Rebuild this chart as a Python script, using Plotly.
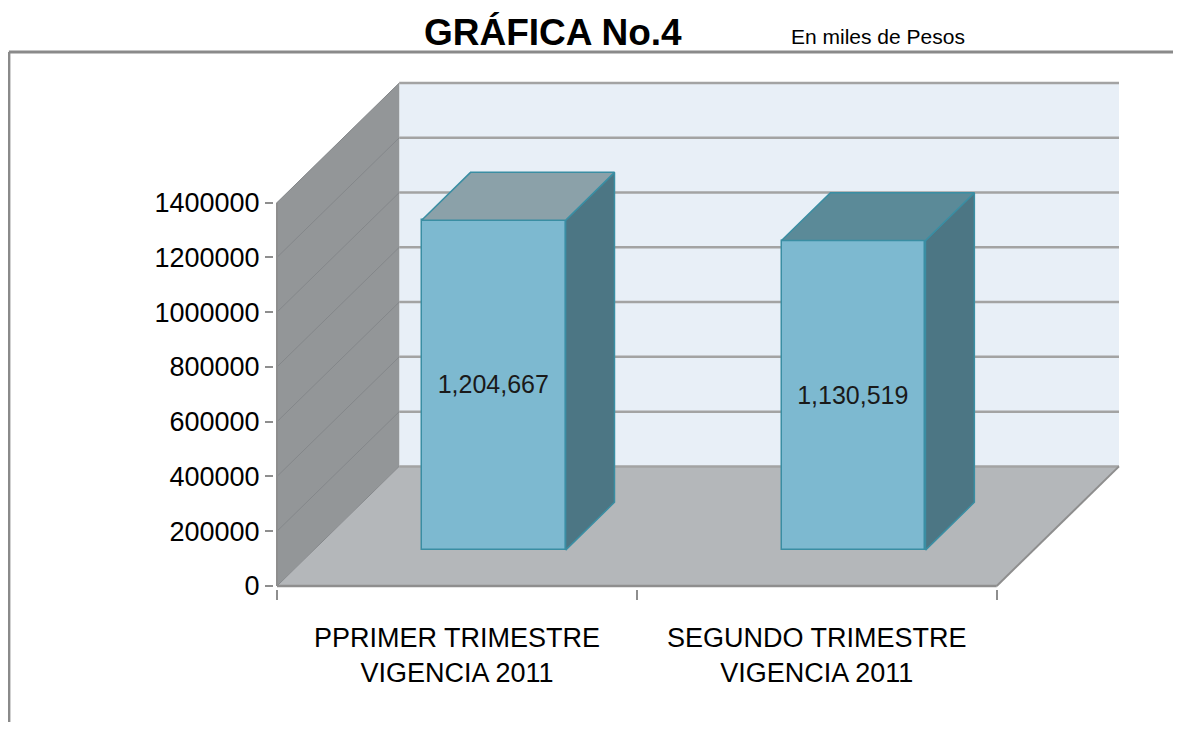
import plotly.graph_objects as go

# ---------------- data ----------------
CATEGORIES = ["PPRIMER TRIMESTRE<br>VIGENCIA 2011", "SEGUNDO TRIMESTRE<br>VIGENCIA 2011"]
VALUES = [1204667, 1130519]
Y_TICKS = [0, 200000, 400000, 600000, 800000, 1000000, 1200000, 1400000]
TITLE = "GRÁFICA No.4"
SUBTITLE = "En miles de Pesos"

# ---------------- layout / style constants ----------------
W, H = 1181, 730
OFF = 8                          # page body margin of the html page
X0_PX, Y0_PX = 277 - OFF, 586 - OFF   # front-left-bottom corner of the 3D box (figure pixels)
CAT_PX = 360.0                   # pixels per category on the front plane
YMAX = Y_TICKS[-1]
K = 383.4 / YMAX                 # pixels per value unit
DEPTH_PX = (122.3, 119.6)        # oblique depth vector in pixels
PAD = 3
DX = DEPTH_PX[0] / CAT_PX
DY = DEPTH_PX[1] / K
NCAT = len(CATEGORIES)
BAR_HALF = 0.2                   # half bar width (category units)
Z0, Z1 = 0.3, 0.7                # bar depth span (fraction of box depth)

L = X0_PX - PAD
R = X0_PX + (NCAT + DX) * CAT_PX + PAD
T = Y0_PX - (YMAX + DY) * K - PAD
B = Y0_PX + PAD

ARIAL = "Liberation Sans, Arial, Helvetica, sans-serif"

C_BACK = "#e8eff7"
C_LEFT = "#939698"
C_FLOOR = "#b4b7ba"
C_GRID = "#a3a3a3"
C_LGRID = "#84878a"
C_EDGE = "#8e8e8e"
C_FRONT = "#7db9d0"
C_SIDE = "#4c7684"
C_TOPS = ["#8ba1a9", "#5b8a98"]
C_BAREDGE = "#3a8ea3"

fig = go.Figure()

shapes = []


def path(pts):
    return "M " + " L ".join(f"{x},{y}" for x, y in pts) + " Z"


# back wall
shapes.append(dict(type="path", layer="below", xref="x", yref="y",
                   path=path([(DX, DY), (NCAT + DX, DY), (NCAT + DX, DY + YMAX), (DX, DY + YMAX)]),
                   fillcolor=C_BACK, line=dict(width=0)))
# left wall
shapes.append(dict(type="path", layer="below", xref="x", yref="y",
                   path=path([(0, 0), (0, YMAX), (DX, DY + YMAX), (DX, DY)]),
                   fillcolor=C_LEFT, line=dict(width=0)))
# floor
shapes.append(dict(type="path", layer="below", xref="x", yref="y",
                   path=path([(0, 0), (NCAT, 0), (NCAT + DX, DY), (DX, DY)]),
                   fillcolor=C_FLOOR, line=dict(width=0)))
# gridlines on back wall and left wall
for t in Y_TICKS:
    shapes.append(dict(type="line", layer="below", xref="x", yref="y",
                       x0=DX, y0=DY + t, x1=NCAT + DX, y1=DY + t,
                       line=dict(color=C_GRID, width=2.5)))
    shapes.append(dict(type="line", layer="below", xref="x", yref="y",
                       x0=0, y0=t, x1=DX, y1=DY + t,
                       line=dict(color=C_LGRID, width=1)))
# floor edges
shapes.append(dict(type="line", layer="below", xref="x", yref="y",
                   x0=0, y0=0, x1=NCAT, y1=0, line=dict(color=C_EDGE, width=2.5)))
shapes.append(dict(type="line", layer="below", xref="x", yref="y",
                   x0=NCAT, y0=0, x1=NCAT + DX, y1=DY, line=dict(color=C_EDGE, width=2)))
# vertical value axis line
shapes.append(dict(type="line", layer="below", xref="x", yref="y",
                   x0=0, y0=0, x1=0, y1=YMAX, line=dict(color=C_EDGE, width=2)))

# outer frame (top and left), converted from page pixels to paper coords
pw, ph = R - L, B - T


def px2paper(px, py):
    return (px - OFF - L) / pw, (B - (py - OFF)) / ph


fx0, fy0 = px2paper(OFF + 0.8, 52)
fx1, _ = px2paper(W + 20, 52)
_, fy1 = px2paper(OFF, 722)
shapes.append(dict(type="line", xref="paper", yref="paper", x0=fx0, y0=fy0, x1=fx1, y1=fy0,
                   line=dict(color="#8a8a8a", width=3)))
shapes.append(dict(type="line", xref="paper", yref="paper", x0=fx0, y0=fy0, x1=fx0, y1=fy1,
                   line=dict(color="#8a8a8a", width=3)))

# ---------------- bars ----------------
centers = [i + 0.5 for i in range(NCAT)]
fig.add_trace(go.Bar(
    x=[c + Z0 * DX for c in centers], y=VALUES, base=Z0 * DY, width=2 * BAR_HALF,
    marker=dict(color=C_FRONT, line=dict(color=C_BAREDGE, width=1.5)),
    text=[f"{v:,}" for v in VALUES], textposition="inside", insidetextanchor="middle",
    textangle=0, textfont=dict(family=ARIAL, size=25, color="#1a1a1a"),
    hoverinfo="skip", showlegend=False))

for i, (c, v) in enumerate(zip(centers, VALUES)):
    xl, xr = c - BAR_HALF, c + BAR_HALF
    top = [(xl + Z0 * DX, Z0 * DY + v), (xr + Z0 * DX, Z0 * DY + v),
           (xr + Z1 * DX, Z1 * DY + v), (xl + Z1 * DX, Z1 * DY + v), (xl + Z0 * DX, Z0 * DY + v)]
    side = [(xr + Z0 * DX, Z0 * DY), (xr + Z1 * DX, Z1 * DY), (xr + Z1 * DX, Z1 * DY + v),
            (xr + Z0 * DX, Z0 * DY + v), (xr + Z0 * DX, Z0 * DY)]
    for pts, col in ((side, C_SIDE), (top, C_TOPS[i])):
        fig.add_trace(go.Scatter(x=[p[0] for p in pts], y=[p[1] for p in pts], mode="lines",
                                 fill="toself", fillcolor=col,
                                 line=dict(color=C_BAREDGE, width=1.5),
                                 hoverinfo="skip", showlegend=False))

# ---------------- layout ----------------
fig.update_layout(
    width=W, height=H,
    margin=dict(l=L, r=W - R, t=T, b=H - B, pad=0),
    paper_bgcolor="white", plot_bgcolor="rgba(0,0,0,0)",
    shapes=shapes,
    showlegend=False,
    bargap=0,
    xaxis=dict(range=[-PAD / CAT_PX, (R - X0_PX) / CAT_PX], showgrid=False, zeroline=False,
               showline=False, tickmode="array", tickvals=centers, ticktext=CATEGORIES,
               ticks="", tickfont=dict(family=ARIAL, size=27, color="black"),
               ticklabelstandoff=30,
               minor=dict(tickmode="array", tickvals=list(range(NCAT + 1)), ticks="outside",
                          ticklen=10, tickwidth=2, tickcolor=C_EDGE, showgrid=False),
               fixedrange=True),
    yaxis=dict(range=[-PAD / K, (Y0_PX - T) / K], showgrid=False, zeroline=False,
               showline=False, tickmode="array", tickvals=Y_TICKS, tickformat="d",
               ticks="outside", ticklen=8, tickwidth=2, tickcolor=C_EDGE,
               tickfont=dict(family=ARIAL, size=27, color="black"),
               fixedrange=True),
    annotations=[
        dict(text=f"<b>{TITLE}</b>", xref="paper", yref="paper",
             x=px2paper(553, 0)[0], y=px2paper(0, 32)[1], xanchor="center", yanchor="middle",
             showarrow=False, font=dict(family=ARIAL, size=37, color="black")),
        dict(text=SUBTITLE, xref="paper", yref="paper",
             x=px2paper(878, 0)[0], y=px2paper(0, 37)[1], xanchor="center", yanchor="middle",
             showarrow=False, font=dict(family=ARIAL, size=21, color="black")),
    ],
)

fig.write_html("out.html")
